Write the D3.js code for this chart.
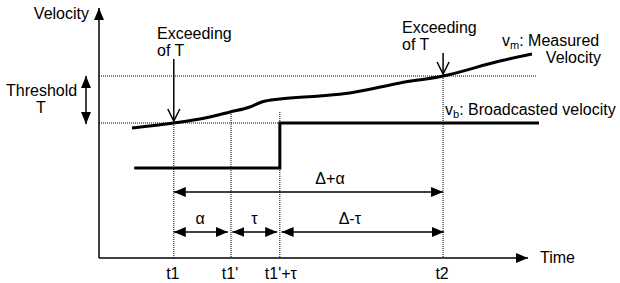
<!DOCTYPE html>
<html>
<head>
    <script src="https://d3js.org/d3.v7.min.js"></script>
    <style>
        body { margin: 0; background: #fff; }
        svg { display: block; }
        text { font-family: "Liberation Sans", Arial, sans-serif; font-size: 16px; fill: #000; }
        .curve { stroke: #000; stroke-width: 3; fill: none; }
        .dot { stroke: #000; stroke-width: 1; stroke-dasharray: 1,1; fill: none; }
        .arr { stroke: #000; stroke-width: 1.5; fill: none; }
    </style>
</head>
<body>
<svg id="chart" width="620" height="283"></svg>
<script>
    // time in arbitrary units (0..100), velocity in arbitrary units (0..100)
    const tickLabels = ["t1", "t1'", "t1'+τ", "t2"];
    const tickTimes = [17, 30, 41.1, 78.2];

    const measuredT = [7.5, 17, 24.1, 29.8, 34.3, 37, 41.1, 50.2, 57, 68.4, 78.2, 91.1, 98.4];
    const measuredV = [52, 54, 56, 58.4, 60.4, 62.4, 63.6, 64.8, 66, 70, 72.8, 78.8, 81.6];

    const broadcastT = [8, 41.1, 41.1, 100];
    const broadcastV = [36, 36, 54, 54];

    const thresholdLow = 54, thresholdHigh = 72.8;

    const intervalFrom = [17, 17, 30.3, 41.5];
    const intervalTo = [78.2, 29.3, 40.5, 78.4];
    const intervalLabels = ["Δ+α", "α", "τ", "Δ-τ"];

    const svg = d3.select("#chart");
    const x = d3.scaleLinear().domain([0, 100]).range([99, 539]);
    const y = d3.scaleLinear().domain([0, 100]).range([258, 8]);

    // arrowhead markers
    const defs = svg.append("defs");
    defs.append("marker")
        .attr("id", "head")
        .attr("markerUnits", "userSpaceOnUse")
        .attr("markerWidth", 13).attr("markerHeight", 11)
        .attr("refX", 12).attr("refY", 5)
        .attr("orient", "auto-start-reverse")
        .append("path").attr("d", "M0,0 L12,5 L0,10 Z").attr("fill", "#000");
    defs.append("marker")
        .attr("id", "big")
        .attr("markerUnits", "userSpaceOnUse")
        .attr("markerWidth", 13).attr("markerHeight", 11)
        .attr("refX", 12).attr("refY", 5)
        .attr("orient", "auto-start-reverse")
        .append("path").attr("d", "M0,0 L12,5 L0,10 Z").attr("fill", "#000");

    // axes
    svg.append("line").attr("class", "arr").attr("stroke-width", 1.6)
        .attr("x1", x(0)).attr("y1", y(0)).attr("x2", x(0)).attr("y2", y(100))
        .attr("marker-end", "url(#big)");
    svg.append("line").attr("class", "arr").attr("stroke-width", 1.6)
        .attr("x1", x(0)).attr("y1", y(0)).attr("x2", x(97.5)).attr("y2", y(0))
        .attr("marker-end", "url(#big)");
    svg.append("text").attr("x", 89).attr("y", 19).attr("text-anchor", "end").text("Velocity");
    svg.append("text").attr("x", 540).attr("y", 263).text("Time");

    // threshold guides
    svg.append("line").attr("class", "dot")
        .attr("x1", x(0)).attr("x2", x(99.5)).attr("y1", y(thresholdHigh)).attr("y2", y(thresholdHigh));
    svg.append("line").attr("class", "dot")
        .attr("x1", x(0)).attr("x2", x(41.1)).attr("y1", y(thresholdLow)).attr("y2", y(thresholdLow));

    // vertical guides
    const guideTop = [thresholdLow, 58.4, 58.4, thresholdHigh];
    tickTimes.forEach((t, i) => {
        svg.append("line").attr("class", "dot")
            .attr("x1", x(t)).attr("x2", x(t))
            .attr("y1", y(guideTop[i])).attr("y2", y(0));
        const lbl = svg.append("text").attr("y", 279).text(tickLabels[i]);
        if (tickLabels[i].includes("+")) lbl.attr("x", x(t) - 15);
        else lbl.attr("x", x(t) - 1).attr("text-anchor", "middle");
    });

    // threshold double arrow
    svg.append("line").attr("class", "arr")
        .attr("x1", 86).attr("x2", 86).attr("y1", y(thresholdHigh)).attr("y2", y(thresholdLow) + 1)
        .attr("marker-start", "url(#head)").attr("marker-end", "url(#head)");
    svg.append("text").attr("x", 6).attr("y", 96).text("Threshold");
    svg.append("text").attr("x", 41).attr("y", 113).attr("text-anchor", "middle").text("T");

    // curves
    const line = d3.line().x(d => x(d[0])).y(d => y(d[1])).curve(d3.curveMonotoneX);
    svg.append("path").attr("class", "curve")
        .datum(d3.zip(measuredT, measuredV)).attr("d", line);
    svg.append("path").attr("class", "curve")
        .datum(d3.zip(broadcastT, broadcastV))
        .attr("d", d3.line().x(d => x(d[0])).y(d => y(d[1])));

    // series labels
    const vm = svg.append("text").attr("x", 502).attr("y", 46);
    vm.append("tspan").text("v");
    vm.append("tspan").attr("font-size", "11px").attr("dy", 3).text("m");
    vm.append("tspan").attr("dy", -3).text(": Measured");
    svg.append("text").attr("x", 601).attr("y", 63).attr("text-anchor", "end").text("Velocity");
    const vb = svg.append("text").attr("x", 445).attr("y", 115);
    vb.append("tspan").text("v");
    vb.append("tspan").attr("font-size", "11px").attr("dy", 3).text("b");
    vb.append("tspan").attr("dy", -3).text(": Broadcasted velocity");

    // "Exceeding of T" callouts
    const exceed = [[tickTimes[0], thresholdLow, 157, 39], [tickTimes[3], thresholdHigh, 402, 33]];
    exceed.forEach(([t, v, tx, ty]) => {
        const px = x(t), py = y(v) - 2;
        svg.append("line").attr("class", "arr").attr("stroke-width", 1.2)
            .attr("x1", px).attr("x2", px).attr("y1", ty + 20).attr("y2", py);
        svg.append("path").attr("class", "arr").attr("stroke-width", 1.2)
            .attr("d", `M${px - 6},${py - 12} L${px},${py} L${px + 6},${py - 12}`);
        svg.append("text").attr("x", tx).attr("y", ty).text("Exceeding");
        svg.append("text").attr("x", tx).attr("y", ty + 17).text("of T");
    });

    // interval arrows
    const rowV = [26.4, 10.4, 10.4, 10.4];
    const labelT = [52.5, 23, 35.3, 57];
    intervalLabels.forEach((l, i) => {
        svg.append("line").attr("class", "arr")
            .attr("x1", x(intervalFrom[i])).attr("x2", x(intervalTo[i]))
            .attr("y1", y(rowV[i])).attr("y2", y(rowV[i]))
            .attr("marker-start", "url(#head)").attr("marker-end", "url(#head)");
        svg.append("text").attr("x", x(labelT[i])).attr("y", y(rowV[i]) - 8)
            .attr("text-anchor", "middle").text(l);
    });
</script>
</body>
</html>
